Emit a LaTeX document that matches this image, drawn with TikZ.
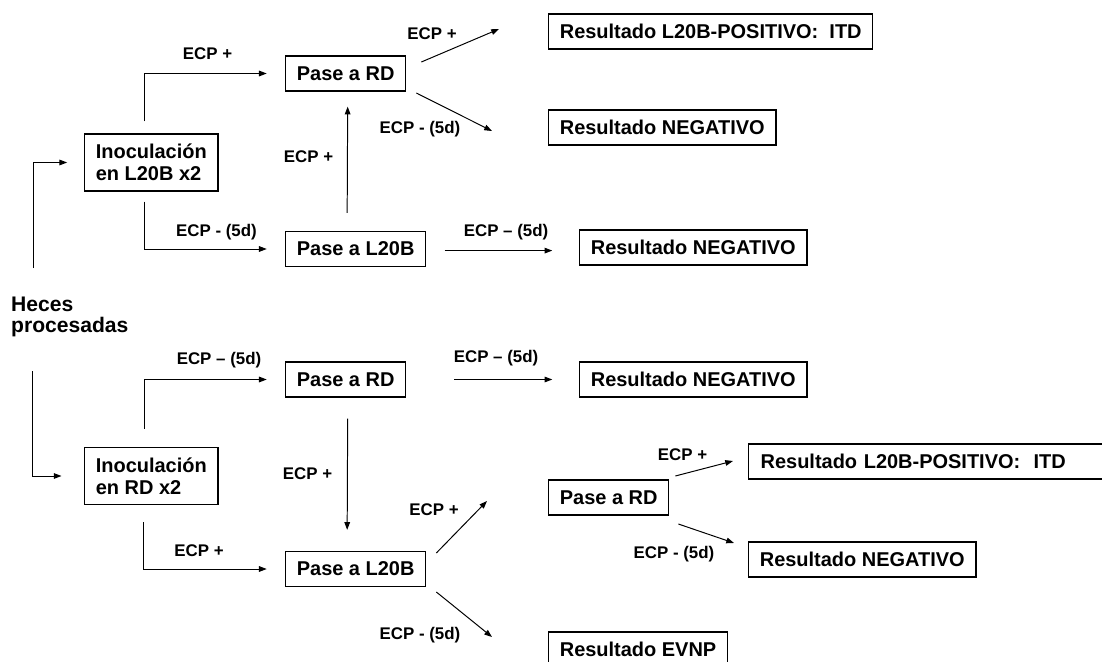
\documentclass[tikz,border=0pt]{standalone}
\usepackage{fontspec}
\setmainfont{Liberation Sans}
\usetikzlibrary{arrows.meta}

\begin{document}
\begin{tikzpicture}[x=0.025cm, y=-0.025cm, line width=0.7pt,
    box node/.style={draw, line width=0.9pt, inner xsep=0.28cm, minimum height=0.875cm, font=\fontsize{14.2}{15.6}\selectfont\bfseries},
    inoc node/.style={box node, align=left, minimum height=1.425cm},
    lbl/.style={font=\fontsize{12}{14}\selectfont\bfseries, inner sep=1pt},
    arr/.style={-{Triangle[length=5.5pt,width=4pt]}}]

    \useasboundingbox (0,0) rectangle (1102,662);

    \node[align=left, anchor=west, font=\fontsize{15}{15}\selectfont\bfseries] at (6,317) (heces) {Heces\\procesadas};

    % rama L20B
    \node[inoc node, anchor=west] at (84,162.5) (inocl) {Inoculación\\en L20B x2};
    \node[box node, anchor=west] at (285,73.5) (rdA) {Pase a RD};
    \node[box node, anchor=west] at (285,249) (lA) {Pase a L20B};
    \node[box node, anchor=west] at (548,31.5) (posA) {Resultado L20B-POSITIVO:\ \ ITD};
    \node[box node, anchor=west] at (548,127.5) (negA) {Resultado NEGATIVO\ };
    \node[box node, anchor=west] at (579,247.5) (negB) {Resultado NEGATIVO\ };

    % rama RD
    \node[inoc node, anchor=west] at (84,476) (inocr) {Inoculación\\en RD x2};
    \node[box node, anchor=west] at (285,379.5) (rdB) {Pase a RD};
    \node[box node, anchor=west] at (285,569) (lB) {Pase a L20B};
    \node[box node, anchor=west] at (579,379.5) (negC) {Resultado NEGATIVO\ };
    \node[box node, anchor=west] at (548,497.5) (rdC) {Pase a RD};
    \node[box node, anchor=west, minimum width=9.3cm, align=left, text width=8.7cm] at (748,461.5) (posB) {Resultado L20B-POSITIVO:\ \ ITD};
    \node[box node, anchor=west] at (748,559.5) (negD) {Resultado NEGATIVO\ };
    \node[box node, anchor=west] at (548,649.5) (evnp) {Resultado EVNP};

    % etiquetas
    \node[lbl] at (207.5,53.5) (e1) {ECP +};
    \node[lbl] at (216.5,232) (e2) {ECP - (5d)};
    \node[lbl] at (308.5,156.5) (e3) {ECP +};
    \node[lbl] at (432,33.5) (e4) {ECP +};
    \node[lbl] at (420,129.5) (e5) {ECP - (5d)};
    \node[lbl] at (506,232) (e6) {ECP -- (5d)};
    \node[lbl] at (219,360) (e7) {ECP -- (5d)};
    \node[lbl] at (496,358.5) (e8) {ECP -- (5d)};
    \node[lbl] at (307.5,473.5) (e9) {ECP +};
    \node[lbl] at (199,551) (e10) {ECP +};
    \node[lbl] at (434,510) (e11) {ECP +};
    \node[lbl] at (420,635) (e12) {ECP - (5d)};
    \node[lbl] at (682.5,454.5) (e13) {ECP +};
    \node[lbl] at (674,554) (e14) {ECP - (5d)};

    % flechas
    \draw[arr, shorten >=12] ([shift={(27,-49)}]heces.west) |- (inocl);
    \draw[arr, shorten >=16] ([shift={(26,54)}]heces.west) |- (inocr);

    \draw[arr, shorten >=13] ([shift={(-6.5,-12)}]inocl.north) |- (rdA);
    \draw[arr, shorten >=13] ([shift={(-6.5,10)}]inocl.south) |- (lA);
    \draw[arr] ([shift={(-8.5,-18)}]lA.north) -- ([shift={(2,15)}]rdA.south);
    \draw[arr] ([shift={(15,-11.5)}]rdA.east) -- ([shift={(-49,-2.5)}]posA.west);
    \draw[arr] ([shift={(10,19.5)}]rdA.east) -- ([shift={(-56,3.5)}]negA.west);
    \draw[arr, shorten <=13, shorten >=19] ([yshift=-0.04cm]lA.east) -- ([yshift=-0.04cm]lA.east -| negB.west);

    \draw[arr, shorten >=13] ([shift={(-6.5,-18)}]inocr.north) |- (rdB);
    \draw[arr, shorten >=13] ([shift={(-7.5,17)}]inocr.south) |- (lB);
    \draw[arr, shorten <=34, shorten >=19] (rdB.east) -- (rdB.east -| negC.west);
    \draw[arr] ([shift={(2,21)}]rdB.south) -- ([shift={(-8.5,-21)}]lB.north);
    \draw[arr] ([shift={(10,-16)}]lB.east) -- ([shift={(-61,3.5)}]rdC.west);
    \draw[arr] ([shift={(10,23)}]lB.east) -- ([shift={(-56,-12.5)}]evnp.west);
    \draw[arr] ([shift={(6,-21.5)}]rdC.east) -- ([shift={(-15,-0.5)}]posB.west);
    \draw[arr] ([shift={(9,26.5)}]rdC.east) -- ([shift={(-14,-16.5)}]negD.west);
\end{tikzpicture}
\end{document}
